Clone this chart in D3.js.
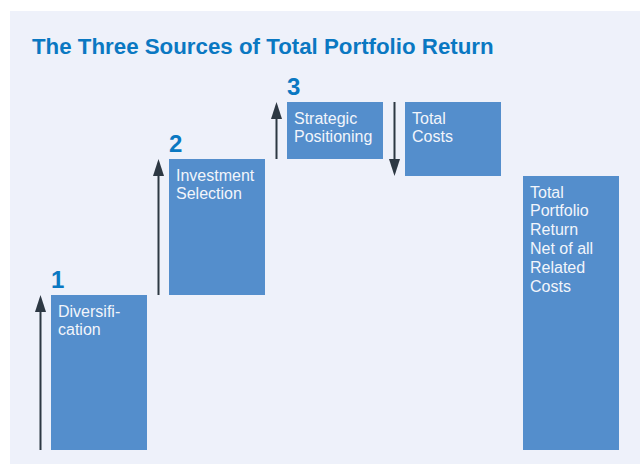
<!DOCTYPE html>
<html>
<head>
<meta charset="utf-8">
<script src="https://cdn.jsdelivr.net/npm/d3@7"></script>
<style>
  body { margin: 0; background: #fff; }
  svg { display: block; }
</style>
</head>
<body>
<svg id="chart" width="640" height="464"></svg>
<script>
// waterfall data
const steps = ["Diversification", "Investment Selection", "Strategic Positioning", "Total Costs", "Total"];
const stepLines = [
  ["Diversifi-", "cation"],
  ["Investment", "Selection"],
  ["Strategic", "Positioning"],
  ["Total", "Costs"],
  ["Total", "Portfolio", "Return", "Net of all", "Related", "Costs"]
];
const stepValues = [155, 136, 57, -74];
const stepNumbers = ["1", "2", "3", "", ""];

const svg = d3.select("#chart");

// panel background
svg.append("rect")
  .attr("x", 10).attr("y", 11)
  .attr("width", 630).attr("height", 460)
  .attr("fill", "#eef1fa");

svg.append("text")
  .attr("x", 32).attr("y", 53.5)
  .attr("font-family", "Liberation Sans, Arial, sans-serif")
  .attr("font-weight", "bold")
  .attr("font-size", 22.3)
  .attr("fill", "#0a78c2")
  .text("The Three Sources of Total Portfolio Return");

// build running totals
var bars = [];
var running = 0;
stepValues.forEach(function(v, i){
  var start = running;
  running += v;
  bars.push({name: steps[i], lines: stepLines[i], num: stepNumbers[i], y0: start, y1: running, delta: v});
});
bars.push({name: steps[4], lines: stepLines[4], num: stepNumbers[4], y0: 0, y1: running, delta: 0});

const x = d3.scaleBand()
  .domain(steps)
  .range([51, 619])
  .paddingInner(22 / 118)
  .paddingOuter(0);

const y = d3.scaleLinear()
  .domain([0, 349])
  .range([450, 101]);

const ink = "#2d3843";

const g = svg.append("g");

g.selectAll("rect.bar")
  .data(bars)
  .join("rect")
  .attr("class", "bar")
  .attr("x", d => x(d.name))
  .attr("y", d => y(Math.max(d.y0, d.y1)))
  .attr("width", x.bandwidth())
  .attr("height", d => Math.abs(y(d.y0) - y(d.y1)))
  .attr("fill", "#548ecc");

// arrows beside the step bars
const arrows = g.selectAll("g.arrow")
  .data(bars.filter(d => d.delta !== 0))
  .join("g")
  .attr("class", "arrow")
  .attr("transform", d => "translate(" + (x(d.name) - 10.5) + ",0)");

arrows.append("line")
  .attr("x1", 0).attr("x2", 0)
  .attr("y1", d => y(d.y0))
  .attr("y2", d => y(d.y1) + (d.delta > 0 ? 12 : -12))
  .attr("stroke", ink)
  .attr("stroke-width", 2);

arrows.append("path")
  .attr("d", function(d){
    var tip = y(d.y1);
    var dir = d.delta > 0 ? 1 : -1;
    var base = tip + dir * 17;
    return "M0," + tip + "L-5.5," + base + "L5.5," + base + "Z";
  })
  .attr("fill", ink);

// step numbers
g.selectAll("text.num")
  .data(bars.filter(d => d.num))
  .join("text")
  .attr("class", "num")
  .attr("x", d => x(d.name))
  .attr("y", d => y(d.y1) - 7.5)
  .attr("font-family", "Liberation Sans, Arial, sans-serif")
  .attr("font-weight", "bold")
  .attr("font-size", 24)
  .attr("fill", "#0a78c2")
  .text(d => d.num);

// labels inside bars
g.selectAll("text.lbl")
  .data(bars)
  .join("text")
  .attr("class", "lbl")
  .attr("font-family", "Liberation Sans, Arial, sans-serif")
  .attr("font-size", 16)
  .attr("fill", "#f2f5fb")
  .each(function(d){
    var top = y(Math.max(d.y0, d.y1));
    d3.select(this).selectAll("tspan")
      .data(d.lines)
      .join("tspan")
      .attr("x", x(d.name) + 7)
      .attr("y", (l, i) => top + 21.5 + i * 18.8)
      .text(l => l);
  });
</script>
</body>
</html>
